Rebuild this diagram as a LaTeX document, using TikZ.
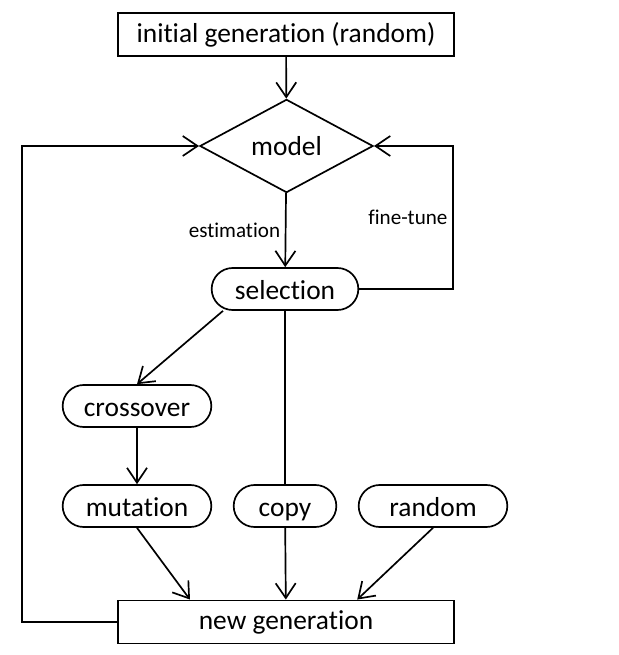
\documentclass[tikz,border=0pt]{standalone}
\usepackage{fontspec}
\setmainfont{Carlito}[Ligatures=NoCommon]
\usetikzlibrary{shapes.geometric,shapes.misc,arrows.meta,positioning}

\begin{document}
\begin{tikzpicture}[x=0.025cm, y=-0.025cm, line width=1.2pt,
      box/.style={rectangle, draw=black, minimum width=8.4cm, minimum height=1.08cm, font=\fontsize{19.5}{22}\selectfont},
      entscheid/.style={diamond, draw=black, inner sep=0pt, minimum width=4.33cm, minimum height=2.33cm, font=\fontsize{19.5}{22}\selectfont},
      schritt/.style={rounded rectangle, draw=black, minimum width=3.95cm, minimum height=1.05cm, text height=16pt, text depth=1pt, font=\fontsize{19.5}{22}\selectfont},
      marke/.style={font=\fontsize{15}{18}\selectfont},
      pfeil/.style={-{Straight Barb[length=0.37cm,width=0.5cm]}}]

\useasboundingbox (0,0) rectangle (618,655);

\node[box] (init) at (286,34.5) {initial generation (random)};
\node[entscheid] (model) at (286.5,146) {model};
\node[schritt, minimum width=3.9cm] (sel) at (285,289) {selection};
\node[schritt] (cross) at (137,406) {crossover};
\node[schritt] (mut) at (137,506) {mutation};
\node[schritt, minimum width=2.8cm] (copy) at (285,506) {copy};
\node[schritt] (rand) at (433,506) {random};
\node[box] (newgen) at (286,622) {new generation};
\coordinate (links) at (22,146);
\coordinate (rechts) at (453,146);

\draw[pfeil] (init) -- (model);
\draw[pfeil] (model) -- node[left, marke] {estimation} (sel);
\draw[pfeil] (sel.east) -| node[pos=0.75, left, marke] {fine-tune} (rechts) -- (model.east);
\draw[pfeil] ([xshift=-1.55cm]sel.south) -- (cross.north);
\draw[pfeil] (cross) -- (mut);
\draw (sel) -- (copy);
\draw[pfeil] (copy) -- (newgen);
\draw[pfeil] (mut.south) -- ([xshift=-2.4cm]newgen.north);
\draw[pfeil] (rand.south) -- ([xshift=1.78cm]newgen.north);
\draw[pfeil] (newgen.west) -| (links) -- (model.west);

\end{tikzpicture}
\end{document}
